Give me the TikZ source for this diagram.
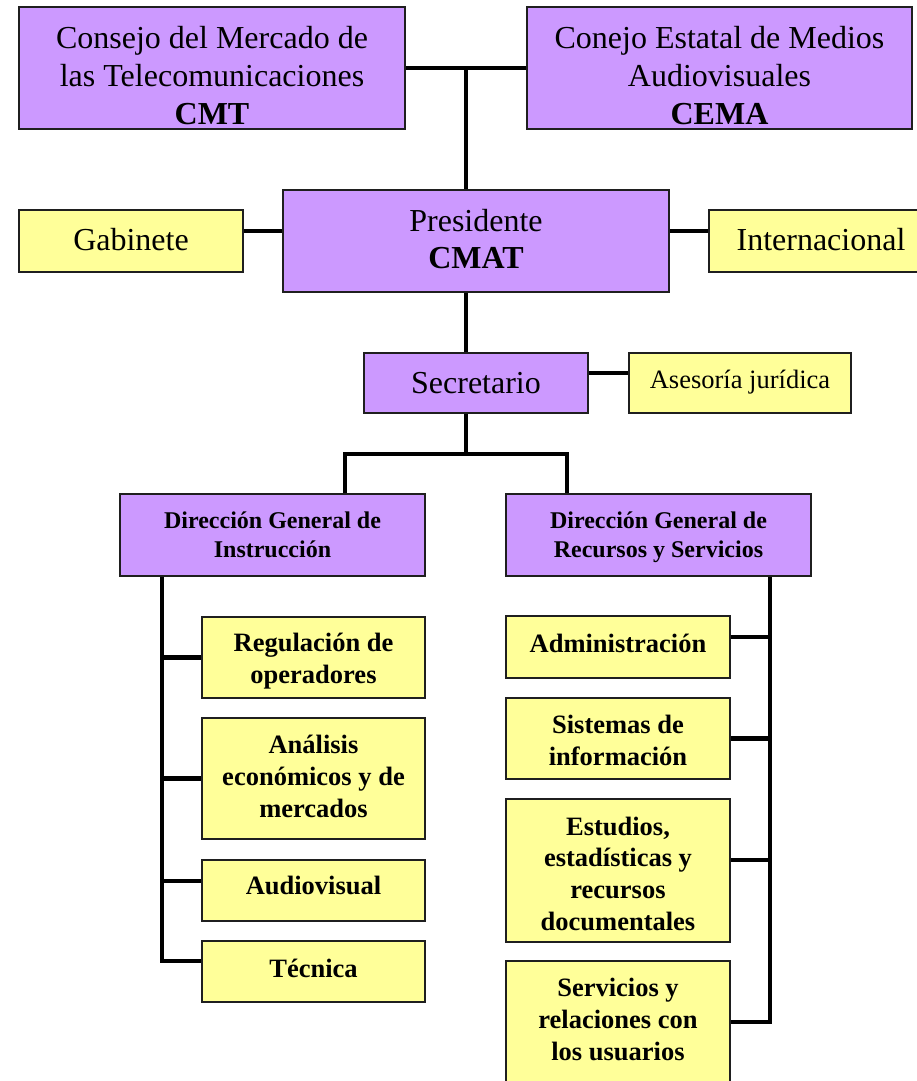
\documentclass[tikz,border=0pt]{standalone}
\usepackage{fontspec}
\setmainfont{Liberation Serif}
\usetikzlibrary{calc}
\definecolor{lila}{HTML}{CC99FF}
\definecolor{amar}{HTML}{FFFF99}
\begin{document}
\begin{tikzpicture}[x=1pt,y=-1pt,
  box/.style={draw=black!88, line width=1.8pt, rectangle, inner sep=0pt},
  pbox/.style={box, fill=lila},
  ybox/.style={box, fill=amar},
  con/.style={line width=4.5pt, line join=miter, draw=black},
  txt/.style={anchor=base, align=center, inner sep=0pt},
  big/.style={txt, font=\fontsize{32}{38}\selectfont},
  mid/.style={txt, font=\fontsize{26.5}{31.6}\selectfont},
  dg/.style={txt, font=\fontsize{24}{29}\selectfont\bfseries},
  sub/.style={txt, font=\fontsize{26.5}{31.6}\selectfont\bfseries}
]
\useasboundingbox (0,0) rectangle (916,1081);
% boxes
\node[pbox, minimum width=386, minimum height=122] (cmt) at (212,68) {};
\node[pbox, minimum width=385, minimum height=122] (cema) at (719.5,68) {};
\node[pbox, minimum width=386, minimum height=102] (pres) at (476,241) {};
\node[ybox, minimum width=224, minimum height=62] (gab) at (131,241) {};
\node[ybox, minimum width=224, minimum height=62] (intl) at (821,241) {};
\node[pbox, minimum width=224, minimum height=60] (sec) at (476,383) {};
\node[ybox, minimum width=222, minimum height=60] (ase) at (740,383) {};
\node[pbox, minimum width=305, minimum height=82] (dgi) at (272.5,535) {};
\node[pbox, minimum width=305, minimum height=82] (dgrs) at (658.5,535) {};
\node[ybox, minimum width=223, minimum height=81] (reg) at (313.5,657.5) {};
\node[ybox, minimum width=223, minimum height=121] (ana) at (313.5,778.5) {};
\node[ybox, minimum width=223, minimum height=61] (aud) at (313.5,890.5) {};
\node[ybox, minimum width=223, minimum height=61] (tec) at (313.5,971.5) {};
\node[ybox, minimum width=224, minimum height=62] (adm) at (618,647) {};
\node[ybox, minimum width=224, minimum height=81] (sis) at (618,738.5) {};
\node[ybox, minimum width=224, minimum height=143] (est) at (618,870.5) {};
\node[ybox, minimum width=224, minimum height=129] (ser) at (618,1025.5) {};
% texts (base anchor = baseline of the last line)
\node[big] (cmtT) at (212,124) {Consejo del Mercado de\\las Telecomunicaciones\\\textbf{CMT}};
\node[big] (cemaT) at (719.5,124) {Conejo Estatal de Medios\\Audiovisuales\\\textbf{CEMA}};
\node[big, font=\fontsize{32}{37}\selectfont] (presT) at (476,268) {Presidente\\\textbf{CMAT}};
\node[big] (gabT) at (131,250) {Gabinete};
\node[big] (intlT) at (821,250) {Internacional};
\node[big] (secT) at (476,393) {Secretario};
\node[mid] (aseT) at (740,388) {Asesoría jurídica};
\node[dg] (dgiT) at (272.5,557) {Dirección General de\\Instrucción};
\node[dg] (dgrsT) at (658.5,557) {Dirección General de\\Recursos y Servicios};
\node[sub] (regT) at (313.5,683) {Regulación de\\operadores};
\node[sub] (anaT) at (313.5,817) {Análisis\\económicos y de\\mercados};
\node[sub] (audT) at (313.5,894) {Audiovisual};
\node[sub] (tecT) at (313.5,977) {Técnica};
\node[sub] (admT) at (618,652) {Administración};
\node[sub] (sisT) at (618,765) {Sistemas de\\información};
\node[sub] (estT) at (618,930) {Estudios,\\estadísticas y\\recursos\\documentales};
\node[sub] (serT) at (618,1060) {Servicios y\\relaciones con\\los usuarios};
% connectors
\coordinate (top) at ($(cmt.east)!0.5!(cema.west)$);
\draw[con] (cmt.east) -- (cema.west);
\draw[con] (top) -- (top |- pres.north);
\draw[con] (pres.south -| top) -- (top |- sec.north);
\coordinate (gy) at ([yshift=10pt]gab.east);
\draw[con] (gy) -- (gy -| pres.west);
\draw[con] (gy -| pres.east) -- (gy -| intl.west);
\coordinate (sy) at ([yshift=10pt]sec.east);
\draw[con] (sy) -- (sy -| ase.west);
\coordinate (sl) at (345,454);
\coordinate (sr) at (567,454);
\draw[con] (sec.south -| top) -- (top |- sl);
\draw[con] (sl |- dgi.north) -- (sl) -- (sr) -- (sr |- dgrs.north);
% left trunk
\coordinate (tecc) at ([yshift=10.5pt]tec.west);
\coordinate (lt) at (162,0);
\draw[con] (lt |- dgi.south) -- (lt |- tecc) -- (tecc);
\draw[con] (lt |- reg.west) -- (reg.west);
\draw[con] (lt |- ana.west) -- (ana.west);
\coordinate (audc) at ([yshift=9.5pt]aud.west);
\draw[con] (lt |- audc) -- (audc);
% right trunk
\coordinate (serc) at (ser.east |- 0,1022);
\coordinate (rt) at (770,0);
\draw[con] (rt |- dgrs.south) -- (rt |- serc) -- (serc);
\coordinate (admc) at ([yshift=10pt]adm.east);
\draw[con] (admc) -- (rt |- admc);
\draw[con] (sis.east) -- (rt |- sis.east);
\coordinate (estc) at ([yshift=10.5pt]est.east);
\draw[con] (estc) -- (rt |- estc);
\end{tikzpicture}
\end{document}
